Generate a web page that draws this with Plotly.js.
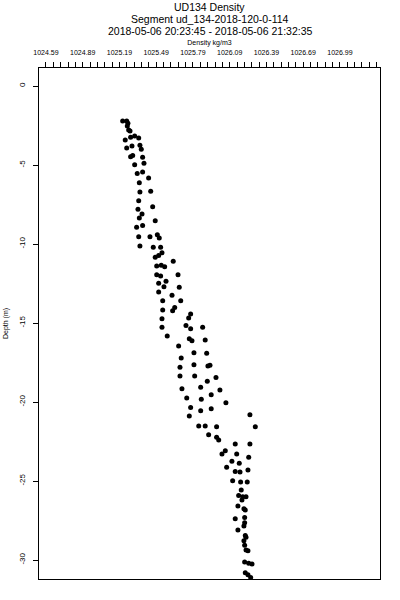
<!DOCTYPE html>
<html>
<head>
<meta charset="utf-8">
<script src="https://cdn.plot.ly/plotly-3.0.1.min.js"></script>
<style>
html,body{margin:0;padding:0;background:#fff;}
#chart{width:400px;height:600px;}
</style>
</head>
<body>
<div id="chart"></div>
<script>
const titleLines = [
  "UD134 Density",
  "Segment ud_134-2018-120-0-114",
  "2018-05-06 20:23:45 - 2018-05-06 21:32:35"
];
const xAxisTitle = "Density kg/m3";
const yAxisTitle = "Depth (m)";

const xTickVals = [1024.59, 1024.89, 1025.19, 1025.49, 1025.79, 1026.09, 1026.39, 1026.69, 1026.99];
const xTickText = ["1024.59", "1024.89", "1025.19", "1025.49", "1025.79", "1026.09", "1026.39", "1026.69", "1026.99"];
const yTickVals = [0, -5, -10, -15, -20, -25, -30];
const yTickText = ["0", "-5", "-10", "-15", "-20", "-25", "-30"];

const density = [
  1025.216, 1025.249, 1025.259, 1025.254, 1025.265, 1025.276, 1025.237, 1025.281, 1025.314, 1025.347,
  1025.249, 1025.292, 1025.357, 1025.368, 1025.298, 1025.281, 1025.379, 1025.314, 1025.390, 1025.335,
  1025.379, 1025.428, 1025.352, 1025.357, 1025.445, 1025.347, 1025.461, 1025.341, 1025.374, 1025.482,
  1025.352, 1025.330, 1025.379, 1025.347, 1025.439, 1025.499, 1025.515, 1025.357, 1025.466, 1025.526,
  1025.537, 1025.510, 1025.482, 1025.629, 1025.494, 1025.531, 1025.559, 1025.494, 1025.526, 1025.668,
  1025.570, 1025.510, 1025.553, 1025.678, 1025.510, 1025.619, 1025.543, 1025.690, 1025.641, 1025.624,
  1025.543, 1025.771, 1025.755, 1025.537, 1025.733, 1025.771, 1025.869, 1025.537, 1025.580, 1025.760,
  1025.782, 1025.890, 1025.673, 1025.798, 1025.902, 1025.694, 1025.684, 1025.798, 1025.912, 1025.929,
  1025.684, 1025.804, 1025.907, 1025.978, 1025.700, 1025.853, 1026.010, 1025.739, 1025.858, 1025.939,
  1026.059, 1025.771, 1025.853, 1025.939, 1025.760, 1026.255, 1026.299, 1025.837, 1025.890, 1025.983,
  1025.918, 1025.983, 1026.000, 1026.135, 1026.255, 1026.054, 1026.027, 1026.147, 1026.245, 1026.108,
  1026.168, 1026.065, 1026.135, 1026.174, 1026.239, 1026.114, 1026.179, 1026.233, 1026.184, 1026.163,
  1026.196, 1026.223, 1026.190, 1026.157, 1026.206, 1026.217, 1026.135, 1026.212, 1026.212, 1026.206,
  1026.157, 1026.217, 1026.223, 1026.206, 1026.212, 1026.223, 1026.239, 1026.212, 1026.245, 1026.272,
  1026.217, 1026.239, 1026.261
];
const depth = [
  -2.22, -2.22, -2.36, -2.53, -2.78, -2.85, -3.42, -3.25, -3.16, -3.29,
  -3.92, -3.80, -3.75, -4.01, -4.39, -4.47, -4.51, -4.98, -4.89, -5.53,
  -5.44, -5.82, -6.12, -6.71, -6.66, -7.26, -7.64, -7.80, -8.10, -8.53,
  -8.35, -8.94, -8.82, -9.54, -9.54, -9.41, -9.62, -10.13, -10.21, -10.21,
  -10.55, -10.72, -10.84, -11.09, -11.39, -11.35, -11.44, -11.94, -12.03, -11.94,
  -12.36, -12.49, -12.70, -12.74, -13.04, -13.25, -13.59, -13.59, -14.01, -14.22,
  -14.18, -14.43, -14.68, -14.73, -15.15, -15.36, -15.27, -15.27, -15.82, -15.99,
  -16.12, -16.08, -16.46, -16.88, -16.92, -17.22, -17.80, -17.64, -17.72, -17.68,
  -18.35, -18.35, -18.69, -18.44, -19.16, -19.07, -19.24, -19.75, -19.83, -19.54,
  -20.04, -20.34, -20.55, -20.42, -20.89, -20.80, -21.56, -21.52, -21.52, -21.56,
  -22.07, -22.23, -22.41, -22.66, -22.66, -23.08, -23.29, -23.29, -23.50, -23.75,
  -23.88, -24.13, -24.39, -24.43, -24.30, -24.98, -25.06, -25.06, -25.57, -25.91,
  -25.99, -25.99, -26.20, -26.58, -26.75, -26.84, -27.39, -27.30, -27.64, -27.85,
  -28.10, -28.44, -28.56, -28.78, -29.07, -29.37, -29.41, -30.13, -30.21, -30.25,
  -30.80, -30.93, -31.10
];

const fontFam = "'Liberation Sans Narrow', 'Liberation Sans', Arial, sans-serif";
const titleFam = "'Liberation Sans', Arial, sans-serif";

const trace = {
  type: 'scatter',
  mode: 'markers',
  x: density,
  y: depth,
  marker: {color: '#000000', size: 5, symbol: 'circle', line: {width: 0}},
  hoverinfo: 'x+y',
  showlegend: false
};

const titleY = [1.1194, 1.0963, 1.0732];
const annotations = titleLines.map((t, i) => ({
  text: t, xref: 'paper', yref: 'paper', x: 0.5, y: titleY[i],
  xanchor: 'center', yanchor: 'middle', showarrow: false,
  font: {family: titleFam, size: 10.5, color: '#000'}
}));

const layout = {
  width: 400,
  height: 600,
  margin: {l: 39, r: 20, t: 68, b: 21, pad: 0},
  paper_bgcolor: '#ffffff',
  plot_bgcolor: '#ffffff',
  showlegend: false,
  annotations: annotations,
  xaxis: {
    side: 'top',
    range: [1024.533, 1027.317],
    tickmode: 'array',
    tickvals: xTickVals,
    ticktext: xTickText,
    ticks: 'outside',
    ticklen: 5,
    tickwidth: 1,
    tickcolor: '#000',
    ticklabelstandoff: 4,
    minor: {dtick: 0.06, tick0: 1024.59, ticks: 'outside', ticklen: 5, tickwidth: 1, tickcolor: '#000', showgrid: false},
    tickfont: {family: fontFam, size: 7, color: '#000'},
    showgrid: false,
    zeroline: false,
    showline: true,
    mirror: true,
    linecolor: '#000',
    linewidth: 1,
    title: {text: xAxisTitle, font: {family: fontFam, size: 7, color: '#000'}, standoff: 2}
  },
  yaxis: {
    range: [-31.2, 1.14],
    tickmode: 'array',
    tickvals: yTickVals,
    ticktext: yTickText,
    tickangle: -90,
    ticks: 'outside',
    ticklen: 5,
    tickwidth: 1,
    tickcolor: '#000',
    ticklabelstandoff: 5,
    tickfont: {family: fontFam, size: 8, color: '#000'},
    showgrid: false,
    zeroline: false,
    showline: true,
    mirror: true,
    linecolor: '#000',
    linewidth: 1,
    title: {text: yAxisTitle, font: {family: fontFam, size: 7, color: '#000'}, standoff: 8}
  }
};

Plotly.newPlot('chart', [trace], layout, {displayModeBar: false, staticPlot: true});
</script>
</body>
</html>
